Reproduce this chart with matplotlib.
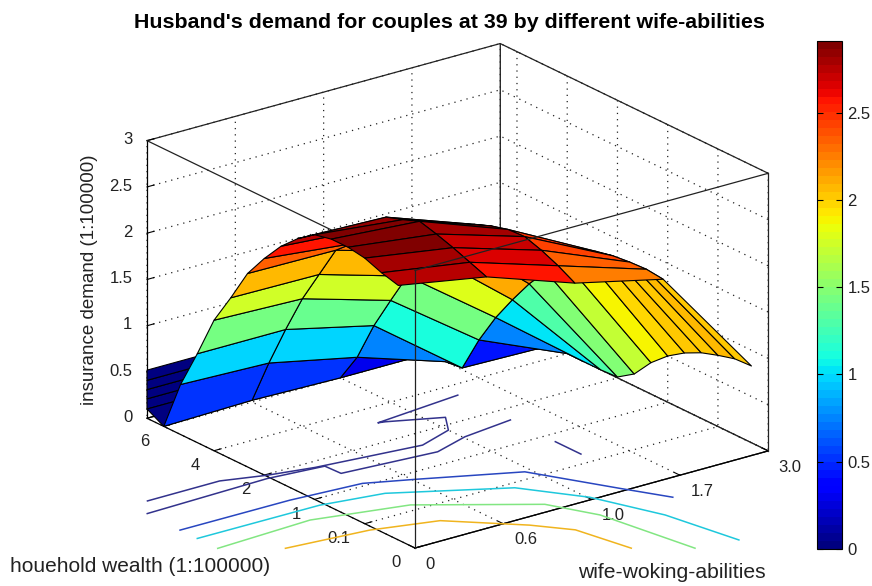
import matplotlib
matplotlib.use('Agg')
import matplotlib.pyplot as plt
import numpy as np

plt.rcParams['font.family'] = 'Liberation Sans'

# index positions on both floor axes, labelled with the real values
wife_pos = [0, 1, 2, 3, 4]
wife_labels = ['0', '0.6', '1.0', '1.7', '3.0']
# the last wealth position is repeated, the far edge of the sheet is a small wall
wealth_pos = list(range(1, 17)) + [16, 16, 16, 16]
wealth_ticks = [0, 3, 6, 9, 12, 15]
wealth_labels = ['0', '0.1', '1', '2', '4', '6']
z_ticks = [0, 0.5, 1, 1.5, 2, 2.5, 3]
z_labels = ['0', '0.5', '1', '1.5', '2', '2.5', '3']

demand = [
    [2.75, 2.58, 2.25, 2.03, 0.83],
    [2.80, 2.65, 2.35, 2.05, 0.82],
    [2.87, 2.72, 2.43, 2.04, 0.77],
    [2.90, 2.78, 2.49, 2.02, 0.71],
    [2.90, 2.83, 2.48, 1.98, 0.62],
    [2.86, 2.76, 2.43, 1.90, 0.50],
    [2.73, 2.70, 2.36, 1.72, 0.34],
    [2.56, 2.49, 2.25, 1.50, 0.13],
    [2.34, 2.24, 2.10, 1.28, 0.01],
    [2.09, 2.08, 1.80, 1.02, 0.00],
    [1.74, 1.73, 1.45, 0.74, 0.00],
    [1.41, 1.38, 1.10, 0.41, 0.00],
    [0.96, 0.96, 0.74, 0.02, 0.00],
    [0.54, 0.51, 0.31, 0.00, 0.00],
    [0.00, 0.02, 0.00, 0.00, 0.00],
    [0.10, 0.10, 0.06, 0.00, 0.00],
    [0.21, 0.21, 0.12, 0.00, 0.00],
    [0.31, 0.31, 0.18, 0.00, 0.00],
    [0.41, 0.41, 0.24, 0.00, 0.00],
    [0.52, 0.52, 0.30, 0.00, 0.00],
]

# floor contours as (wife, wealth) pairs, they run past the axes like in the original
contour_a = [(-1.23, 9.49), (-0.41, 9.50), (0.02, 8.92), (0.48, 8.50), (1.59, 7.93), (2.00, 8.55),
             (2.17, 9.62), (1.67, 10.57), (1.60, 10.65), (2.59, 11.10)]
contour_b = [(-1.42, 8.50), (-0.03, 8.66), (0.57, 8.39), (0.58, 7.47), (1.60, 7.08), (2.02, 7.67), (2.60, 8.01)]
contour_c = [(2.60, 5.33), (2.60, 3.80)]
contour_d = [(-1.43, 6.49), (-0.19, 6.47), (0.585, 6.22), (1.025, 5.40), (1.93, 3.62), (2.37, 0.26), (2.62, -1.58)]
contour_e = [(-1.43, 5.46), (-0.05, 5.43), (0.60, 4.95), (1.62, 2.58), (2.02, 0.21), (2.30, -2.81), (2.46, -6.37)]
contour_f = [(-1.43, 4.24), (-0.34, 4.47), (0.61, 3.49), (1.59, 0.63), (1.83, -1.40), (2.02, -6.07)]
contour_g = [(-0.94, 2.78), (-0.06, 2.39), (0.59, 1.61), (1.17, -0.68), (1.43, -2.04), (1.56, -4.69)]
contour_cols = ['#32328c', '#32328c', '#32328c', '#2846c0', '#1ec8dc', '#82e682', '#f0b41e']

fig = plt.figure(figsize=(8.72, 5.86), dpi=100)
ax = fig.add_axes([111.25 / 872, 1 - 642.15 / 586, 674.5 / 872, 674.5 / 586], projection='3d', proj_type='ortho')
ax.set_box_aspect((442, 445, 298))
ax.view_init(elev=21.4, azim=233)
ax.computed_zorder = False

jet = plt.get_cmap('jet', 64)
vmax = 2.91
Z = np.array(demand)
X, Y = np.meshgrid(wife_pos, wealth_pos)

# plot_surface colours each face from its lowest index corner, same as matlab
colour_vals = Z.copy()
colour_vals[15:] = 0  # the wall stays dark
surf = ax.plot_surface(X, Y, Z, rstride=1, cstride=1, facecolors=jet(colour_vals / vmax), shade=False, zorder=3)
surf.set_edgecolor('k')
surf.set_linewidth(0.8)

for line, col in zip([contour_a, contour_b, contour_c, contour_d, contour_e, contour_f, contour_g], contour_cols):
    xs, ys = zip(*line)
    ax.plot(xs, ys, 0 * np.array(xs), color=col, lw=1.1, zorder=2)

ax.set_xlim(0, 4, view_margin=0)
ax.set_ylim(0, 16, view_margin=0)
ax.set_zlim(0, 3, view_margin=0)

# rest of the box
ax.plot([0, 0], [16, 0], [3, 3], color='#222222', lw=0.9, zorder=1)
ax.plot([0, 4], [0, 0], [3, 3], color='#222222', lw=0.9, zorder=4)
ax.plot([0, 0], [0, 0], [0, 3], color='#222222', lw=0.9, zorder=4)
ax.plot([4, 4], [0, 0], [0, 3], color='#222222', lw=0.9, zorder=4)

ax.set_xticks(wife_pos, wife_labels)
ax.set_yticks(wealth_ticks, wealth_labels)
ax.set_zticks(z_ticks, z_labels)
ax.tick_params(labelsize=12, pad=2, labelcolor='#222222')
ax.zaxis.set_tick_params(pad=-2)
for t in ax.get_xticklabels():
    t.set(ha='left', va='center')
for t in ax.get_yticklabels():
    t.set(ha='right', va='center')
for t in ax.get_zticklabels():
    t.set(ha='right', va='center')
for axis in [ax.xaxis, ax.yaxis, ax.zaxis]:
    axis.set_pane_color((1, 1, 1, 1))
    axis.pane.set_edgecolor('#222222')
    axis.pane.set_linewidth(0.9)
    axis._axinfo['grid'].update(color='#222222', linestyle=(0, (1, 4)), linewidth=0.9)
    axis._axinfo['tick'].update(inward_factor=0, outward_factor=0.25)
    axis.line.set_linewidth(0.9)

fig.suptitle("Husband's demand for couples at 39 by different wife-abilities",
             x=449 / 872, y=1 - 23 / 586, va='center', fontsize=15.4, fontweight='bold')
fig.text(10 / 872, 1 - 566 / 586, 'houehold wealth (1:100000)', fontsize=15, va='center', color='#222222')
fig.text(578 / 872, 1 - 573 / 586, 'wife-woking-abilities', fontsize=15.2, va='center', color='#222222')
fig.text(90 / 872, 1 - 280 / 586, 'insurance demand (1:100000)', fontsize=13.5, rotation=90, va='center', ha='center',
         color='#222222')

cax = fig.add_axes([817 / 872, 1 - 549 / 586, 25 / 872, 508 / 586])
sm = plt.cm.ScalarMappable(norm=plt.Normalize(0, vmax), cmap=jet)
cbar = fig.colorbar(sm, cax=cax, ticks=[0, 0.5, 1, 1.5, 2, 2.5])
cbar.ax.set_yticklabels(['0', '0.5', '1', '1.5', '2', '2.5'])
cbar.ax.tick_params(direction='in', left=True, right=True, length=4, labelsize=12, width=0.8, pad=4, labelcolor='#222222')
cbar.outline.set_linewidth(0.8)

fig.savefig('out.png', dpi=100)
